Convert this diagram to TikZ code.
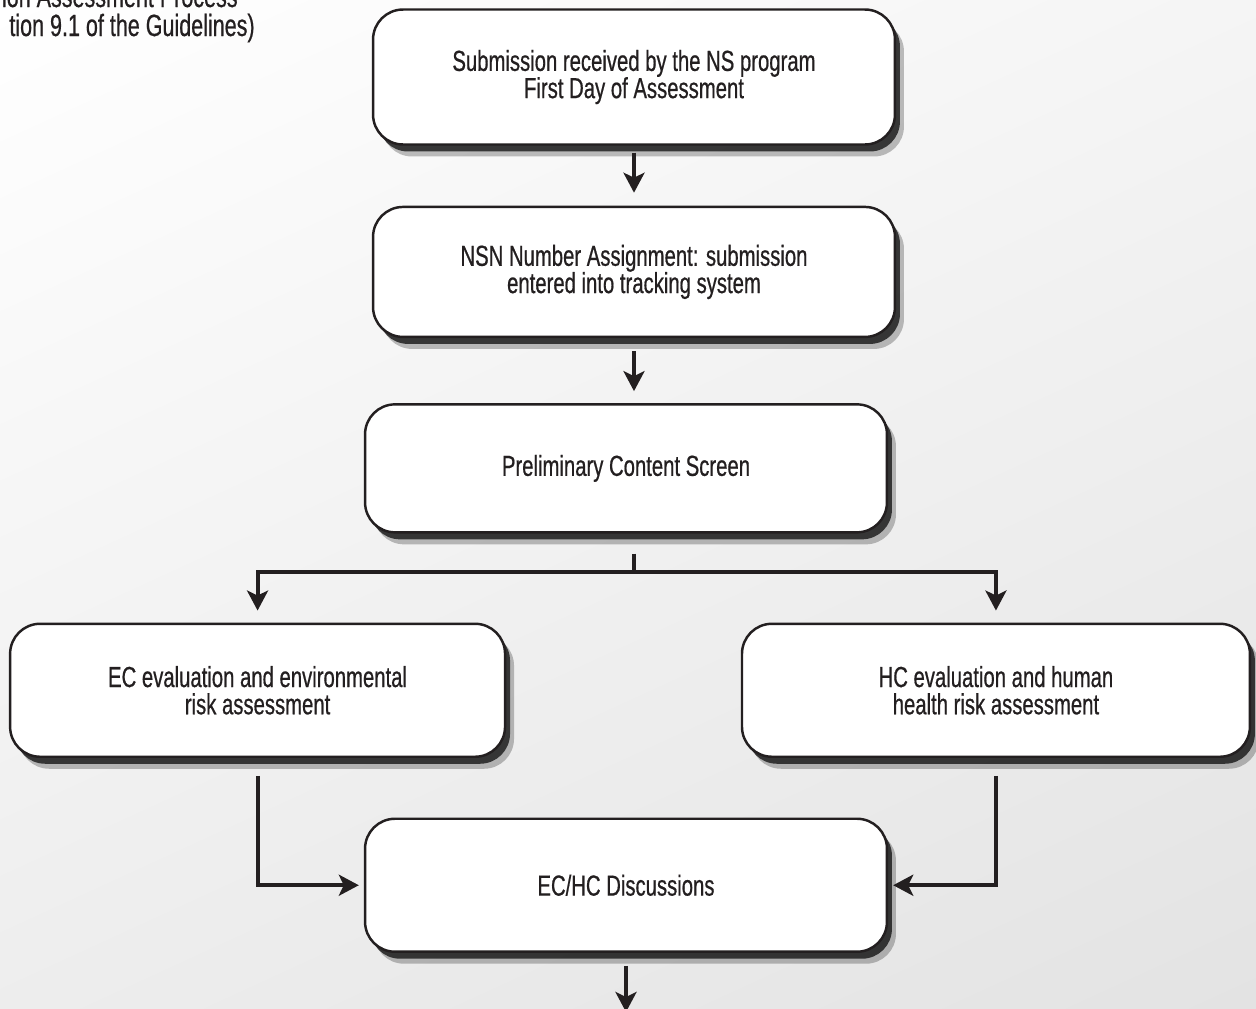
\documentclass[tikz,border=0pt]{standalone}
\usepackage{fontspec}
\setmainfont{Liberation Sans}[FakeStretch=0.7, FakeBold=0.6]
\usepackage{tikz}
\usetikzlibrary{positioning, shadows, shadings, arrows.meta}

\definecolor{inkgray}{HTML}{231F20}
\tikzset{
  stepbox/.style={draw=inkgray, line width=1.4pt, fill=white, rounded corners=0.6cm,
    minimum width=10.44cm, minimum height=2.66cm, align=center, text=inkgray,
    font=\fontsize{16.5}{15.5}\selectfont,
    drop shadow={shadow xshift=0.18cm, shadow yshift=-0.24cm, opacity=0.25, fill=black},
    drop shadow={shadow xshift=0.1cm, shadow yshift=-0.14cm, opacity=0.7, fill=black}},
  link/.style={draw=inkgray, line width=2.3pt},
  flow/.style={link, -{Stealth[length=0.4cm, width=0.42cm, inset=0.1cm]}},
  heading/.style={text=inkgray, inner sep=0pt, font=\fontsize{17.5}{16}\selectfont}
}

\begin{document}
\begin{tikzpicture}[x=0.02cm, y=-0.02cm]
            \useasboundingbox (0,0) rectangle (1256,1008);
            \shade[upper left=white, upper right=black!4, lower left=black!7, lower right=black!11]
              (0,0) rectangle (1256,1008);

            \node [heading, anchor=base east] (title1) at (238,7) {ion Assessment Process};
            \node [heading, anchor=base east] (title2) at (255,36) {tion 9.1 of the Guidelines)};

            \node [stepbox, minimum height=2.7cm] (submit) at (634,77)
              {Submission received by the NS program\\First Day of Assessment};
            \node [stepbox, minimum height=2.6cm, below=1.2cm of submit] (nsn)
              {NSN Number Assignment: submission\\entered into tracking system};
            \node [stepbox, minimum height=2.56cm, below=1.3cm of nsn, xshift=-0.16cm] (screen)
              {Preliminary Content Screen};
            \node [stepbox, minimum width=9.9cm, below=1.78cm of screen, xshift=-7.37cm] (ec)
              {EC evaluation and environmental\\risk assessment};
            \node [stepbox, minimum width=10.16cm, below=1.78cm of screen, xshift=7.4cm] (hc)
              {HC evaluation and human\\health risk assessment};
            \node [stepbox, below=5.68cm of screen] (talks) {EC/HC Discussions};

            \path (nsn.south |- screen.south) ++(0,-0.76cm) coordinate (fork);
            \coordinate (out) at (talks.south |- 0,1012);

            \draw [flow, shorten <=0.14cm, shorten >=0.26cm] (submit) -- (nsn);
            \draw [flow, shorten <=0.26cm, shorten >=0.24cm] (nsn.south) -- (nsn.south |- screen.north);
            \draw [link, shorten <=0.4cm] (nsn.south |- screen.south) -- (fork);
            \draw [flow, shorten >=0.24cm] (fork) -| (ec.north);
            \draw [flow, shorten >=0.24cm] (fork) -| (hc.north);
%            \draw [link] (ec.north -| fork) -- (hc.north -| fork);
            \draw [flow, shorten <=0.36cm, shorten >=0.1cm] (ec.south) |- (talks.west);
            \draw [flow, shorten <=0.36cm, shorten >=0.1cm] (hc.south) |- (talks.east);
            \draw [flow, shorten <=0.26cm] (talks.south) -- (out);
\end{tikzpicture}
\end{document}
